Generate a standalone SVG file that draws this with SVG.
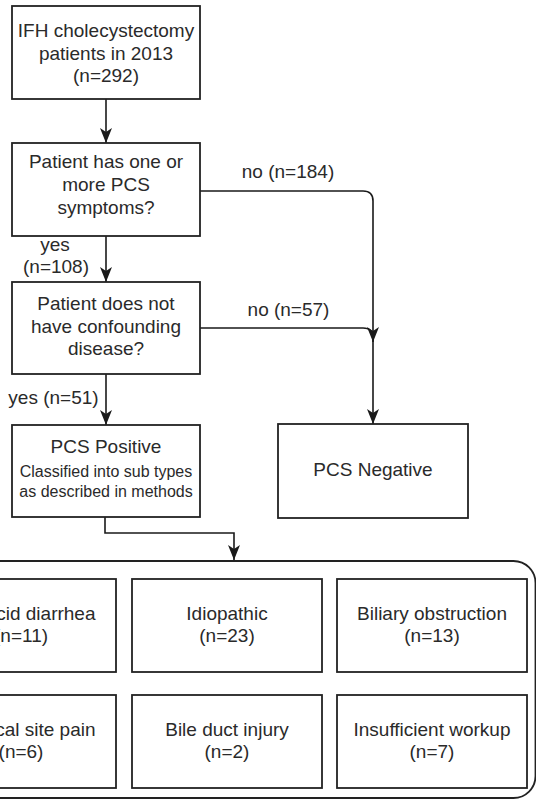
<svg xmlns="http://www.w3.org/2000/svg" width="536" height="802" viewBox="0 0 536 802">
<style>
.box{fill:#fff;stroke:#222;stroke-width:1.8}
.edge{fill:none;stroke:#1a1a1a;stroke-width:1.6}
text{font-family:"Liberation Sans",Arial,sans-serif;font-size:19px;fill:#2a2a2a;text-anchor:middle}
.small{font-size:16px}
</style>
<defs>
<marker id="arr" viewBox="0 0 12 15" markerUnits="userSpaceOnUse" markerWidth="12" markerHeight="15" refX="6" refY="15" orient="auto-start-reverse">
<path d="M0,0 L6,15 L12,0 L6,4 Z" fill="#1a1a1a" transform="rotate(0)"/>
</marker>
<marker id="ah" viewBox="0 0 15 12" markerUnits="userSpaceOnUse" markerWidth="15" markerHeight="12" refX="15" refY="6" orient="auto">
<path d="M0,0 L15,6 L0,12 L4,6 Z" fill="#1a1a1a"/>
</marker>
</defs>
<rect width="536" height="802" fill="#fff"/>
<g id="container">
<rect x="-60" y="561" width="595.5" height="237" rx="22" ry="22" fill="none" stroke="#222" stroke-width="1.8"/>
</g>
<g id="connectors">
<path class="edge" d="M106,99 V143" marker-end="url(#ah)"/>
<path class="edge" d="M200,191 H363 Q373,191 373,201 V424" marker-end="url(#ah)"/>
<path class="edge" d="M200,328 H363 Q373,328 373,338 V342" marker-end="url(#ah)"/>
<path class="edge" d="M106,236 V282" marker-end="url(#ah)"/>
<path class="edge" d="M106,374 V425" marker-end="url(#ah)"/>
<path class="edge" d="M105,517 V533 H234 V560" marker-end="url(#ah)"/>
<text x="288" y="178">no (n=184)</text>
<text x="288.5" y="316">no (n=57)</text>
<text x="55" y="251">yes</text>
<text x="56" y="273">(n=108)</text>
<text x="53.5" y="404">yes (n=51)</text>
</g>
<g id="start">
<rect class="box" x="12" y="6" width="188" height="93"/>
<text x="106" y="37">IFH cholecystectomy</text>
<text x="106" y="59.5">patients in 2013</text>
<text x="106" y="82">(n=292)</text>
</g>
<g id="symptoms">
<rect class="box" x="12" y="143" width="188" height="93"/>
<text x="106" y="168">Patient has one or</text>
<text x="106" y="191">more PCS</text>
<text x="106" y="214">symptoms?</text>
</g>
<g id="confounding">
<rect class="box" x="12" y="282" width="188" height="92"/>
<text x="106" y="310">Patient does not</text>
<text x="106" y="332.5">have confounding</text>
<text x="106" y="355">disease?</text>
</g>
<g id="positive">
<rect class="box" x="12" y="425" width="188" height="92"/>
<text x="106" y="453">PCS Positive</text>
<text class="small" x="106" y="476.5">Classified into sub types</text>
<text class="small" x="106" y="496.5">as described in methods</text>
</g>
<g id="negative">
<rect class="box" x="278" y="424" width="190" height="94"/>
<text x="373" y="476">PCS Negative</text>
</g>
<g id="bile-acid">
<rect class="box" x="-74" y="579" width="190" height="93"/>
<text x="95.5" y="619.5" style="text-anchor:end">cid diarrhea</text>
<text x="21" y="642">(n=11)</text>
</g>
<g id="idiopathic">
<rect class="box" x="132" y="579" width="190" height="93"/>
<text x="227" y="619.5">Idiopathic</text>
<text x="227" y="642">(n=23)</text>
</g>
<g id="biliary">
<rect class="box" x="337" y="579" width="190" height="93"/>
<text x="432" y="619.5">Biliary obstruction</text>
<text x="432" y="642">(n=13)</text>
</g>
<g id="surgical-site">
<rect class="box" x="-74" y="695" width="190" height="93"/>
<text x="95.5" y="735.5" style="text-anchor:end">cal site pain</text>
<text x="21" y="758">(n=6)</text>
</g>
<g id="bile-duct">
<rect class="box" x="132" y="695" width="190" height="93"/>
<text x="227" y="735.5">Bile duct injury</text>
<text x="227" y="758">(n=2)</text>
</g>
<g id="workup">
<rect class="box" x="337" y="695" width="190" height="93"/>
<text x="432" y="735.5">Insufficient workup</text>
<text x="432" y="758">(n=7)</text>
</g>
</svg>
